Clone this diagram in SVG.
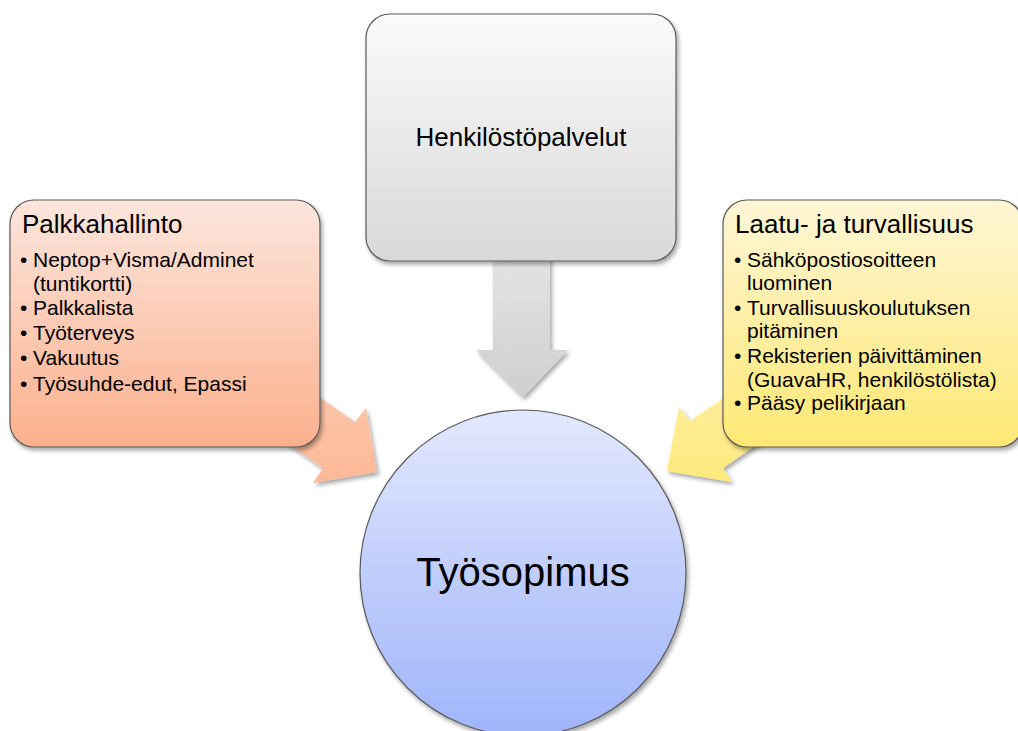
<svg xmlns="http://www.w3.org/2000/svg" width="1018" height="731" viewBox="0 0 1018 731">
<defs>
<linearGradient id="gOrange" x1="0" y1="0" x2="0" y2="1"><stop offset="0" stop-color="#fde6dd"/><stop offset="1" stop-color="#fbb08d"/></linearGradient>
<linearGradient id="gYellow" x1="0" y1="0" x2="0" y2="1"><stop offset="0" stop-color="#fff6d6"/><stop offset="1" stop-color="#ffe874"/></linearGradient>
<linearGradient id="gGray" x1="0" y1="0" x2="0" y2="1"><stop offset="0" stop-color="#fbfbfb"/><stop offset="1" stop-color="#d8d8d8"/></linearGradient>
<linearGradient id="gBlue" x1="0" y1="0" x2="0" y2="1"><stop offset="0" stop-color="#e2e8fd"/><stop offset="1" stop-color="#9fb4fa"/></linearGradient>
<linearGradient id="gArrGray" x1="0" y1="0" x2="0" y2="1"><stop offset="0" stop-color="#e6e6e6"/><stop offset="1" stop-color="#cfcfcf"/></linearGradient>
<linearGradient id="gArrOrange" x1="0" y1="0" x2="0" y2="1"><stop offset="0" stop-color="#fdccb2"/><stop offset="1" stop-color="#fcb895"/></linearGradient>
<linearGradient id="gArrYellow" x1="0" y1="0" x2="0" y2="1"><stop offset="0" stop-color="#fff0a8"/><stop offset="1" stop-color="#ffe97c"/></linearGradient>
<filter id="sh" x="-10%" y="-10%" width="130%" height="130%"><feDropShadow dx="2" dy="3" stdDeviation="2" flood-color="#000" flood-opacity="0.35"/></filter>
</defs>
<style>
.box{stroke:#5a5a5a;stroke-width:1.2;filter:url(#sh)}
.arr{filter:url(#sh)}
text{font-family:"Liberation Sans",Arial,sans-serif;fill:#000}
.title{font-size:26px}
.item{font-size:21px}
.big{font-size:40px}
</style>
<g id="connectors">
<polygon class="arr" fill="url(#gArrGray)" points="493,240 550,240 550,350 568,350 523,397 476,350 493,350"/>
<polygon class="arr" fill="url(#gArrOrange)" points="263,358 355,422 366,408 377,472 313,483 323,468 231,404"/>
<polygon class="arr" fill="url(#gArrYellow)" points="782,358 690,421 679,407 667,471 732,482 723,468 815,404"/>
</g>
<g id="tyosopimus">
<circle class="box" cx="523" cy="573" r="163" fill="url(#gBlue)"/>
<text class="big" x="523" y="586" text-anchor="middle">Työsopimus</text>
</g>
<g id="henkilostopalvelut">
<rect class="box" x="366" y="14" width="310" height="247" rx="24" fill="url(#gGray)"/>
<text class="title" x="521" y="146" text-anchor="middle">Henkilöstöpalvelut</text>
</g>
<g id="palkkahallinto">
<rect class="box" x="10" y="200" width="310" height="247" rx="24" fill="url(#gOrange)"/>
<text class="title" x="22" y="233">Palkkahallinto</text>
<text class="item" x="20" y="267">•</text><text class="item" x="33" y="267">Neptop+Visma/Adminet</text>
<text class="item" x="33" y="291">(tuntikortti)</text>
<text class="item" x="20" y="315">•</text><text class="item" x="33" y="315">Palkkalista</text>
<text class="item" x="20" y="340">•</text><text class="item" x="33" y="340">Työterveys</text>
<text class="item" x="20" y="365">•</text><text class="item" x="33" y="365">Vakuutus</text>
<text class="item" x="20" y="391">•</text><text class="item" x="33" y="391">Työsuhde-edut, Epassi</text>
</g>
<g id="laatu">
<rect class="box" x="723" y="200" width="300" height="247" rx="24" fill="url(#gYellow)"/>
<text class="title" x="735" y="233">Laatu- ja turvallisuus</text>
<text class="item" x="734" y="267">•</text><text class="item" x="747" y="267">Sähköpostiosoitteen</text>
<text class="item" x="747" y="290">luominen</text>
<text class="item" x="734" y="315">•</text><text class="item" x="747" y="315">Turvallisuuskoulutuksen</text>
<text class="item" x="747" y="338">pitäminen</text>
<text class="item" x="734" y="363">•</text><text class="item" x="747" y="363">Rekisterien päivittäminen</text>
<text class="item" x="747" y="387">(GuavaHR, henkilöstölista)</text>
<text class="item" x="734" y="410">•</text><text class="item" x="747" y="410">Pääsy pelikirjaan</text>
</g>
</svg>
